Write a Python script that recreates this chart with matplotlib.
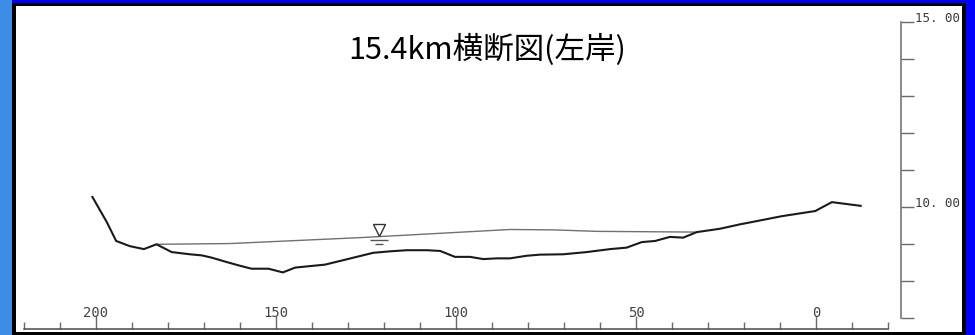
import matplotlib
matplotlib.use("Agg")
import matplotlib.pyplot as plt
from matplotlib.patches import Rectangle
from matplotlib.ticker import FixedLocator, FuncFormatter

# 15.4km cross section (left bank)
title = "15.4km横断図(左岸)"

# ground profile: distance [m] / elevation [m]
dist = [201, 197, 194.4, 190.6, 186.7, 183.2, 179, 173.9, 170.6, 167.9,
        163.7, 160, 156.8, 152.1, 148.1, 144.7, 140.6, 136.4, 132.2, 127.6,
        123, 118.3, 113.7, 108.1, 104.4, 100.3, 96.1, 92.4, 88.7, 85,
        80.4, 76.7, 70.2, 63.7, 57.2, 52.6, 48.4, 44.7, 40.6, 36.9,
        33.1, 26.7, 21.1, 17.9, 9.5, 0.2, -4.4, -12.4]
elev = [10.27, 9.59, 9.08, 8.94, 8.86, 8.99, 8.78, 8.72, 8.69, 8.63,
        8.51, 8.41, 8.33, 8.33, 8.23, 8.36, 8.40, 8.44, 8.54, 8.65,
        8.76, 8.80, 8.83, 8.83, 8.81, 8.65, 8.65, 8.59, 8.61, 8.61,
        8.68, 8.71, 8.72, 8.78, 8.86, 8.90, 9.05, 9.08, 9.19, 9.17,
        9.32, 9.41, 9.53, 9.59, 9.75, 9.89, 10.13, 10.03]

# water surface
wl_dist = [183.2, 162.8, 126.7, 85, 73, 61, 33.1]
wl_elev = [8.99, 9.01, 9.17, 9.39, 9.38, 9.34, 9.32]
wl_mark = 121.4

x_major = [200, 150, 100, 50, 0]
x_minor = [220, 210, 190, 180, 170, 160, 140, 130, 120, 110,
           90, 80, 70, 60, 40, 30, 20, 10, -10, -20]
y_ticks = [7, 8, 9, 10, 11, 12, 13, 14, 15]
y_labels = {15: "15. 00", 10: "10. 00"}

W, H = 975, 335
fig = plt.figure(figsize=(W / 100, H / 100), dpi=100, facecolor="#0000ff")
# frame (behind the axes)
fig.add_artist(Rectangle((0, 0), 12 / W, 1, transform=fig.transFigure,
                         fc="#3d8de6", ec="none", zorder=-10))
fig.add_artist(Rectangle((12 / W, 0), 954 / W, 332 / H, transform=fig.transFigure,
                         fc="black", ec="none", zorder=-9))
fig.add_artist(Rectangle((16 / W, 3 / H), 946 / W, 326 / H, transform=fig.transFigure,
                         fc="white", ec="none", zorder=-8))

ax = fig.add_axes([24 / W, 6 / H, 877 / W, 307 / H])
ax.set_facecolor("none")
ax.set_xlim(220, -23.6)
ax.set_ylim(6.7, 15)

ax.plot(wl_dist, wl_elev, color="#707070", lw=1.0, clip_on=False)
ax.plot(dist, elev, color="#1a1a1a", lw=1.5, clip_on=False)

# water level symbol
ax.plot([wl_mark], [9.38], marker="v", ms=8, mfc="white", mec="#333333", mew=1)
ax.plot([wl_mark], [9.10], marker="_", ms=13, mew=1, color="#555555")
ax.plot([wl_mark], [9.01], marker="_", ms=6, mew=1, color="#555555")

axc = "#6a6a6a"
for s in ("left", "top"):
    ax.spines[s].set_visible(False)
ax.spines["bottom"].set_bounds(-20, 220)
ax.spines["right"].set_bounds(7, 15)
ax.spines["bottom"].set_color("#4a4a4a")
ax.spines["right"].set_color(axc)
for s in ("bottom", "right"):
    ax.spines[s].set_linewidth(1.1)

ax.xaxis.set_major_locator(FixedLocator(x_major))
ax.xaxis.set_minor_locator(FixedLocator(x_minor))
ax.tick_params(axis="x", which="major", direction="in", length=9.5, width=1,
               color=axc, labelsize=10, labelcolor="#444444", pad=-16.5)
ax.tick_params(axis="x", which="minor", direction="in", length=5, width=1, color=axc)
for lab in ax.get_xticklabels():
    lab.set_family("DejaVu Sans Mono")

ax.yaxis.tick_right()
ax.yaxis.set_major_locator(FixedLocator(y_ticks))
ax.yaxis.set_major_formatter(FuncFormatter(lambda v, p: y_labels.get(int(round(v)), "")))
ax.tick_params(axis="y", which="major", direction="out", length=9.5, width=1,
               color=axc, labelsize=9, labelcolor="#3a3a3a", pad=0.5)
for t in ax.yaxis.get_major_ticks():
    t.label2.set_va("baseline")
    t.label2.set_family("DejaVu Sans Mono")

fig.text(0.5, 0.852, title, ha="center", va="center", fontsize=22,
         family=["Noto Sans CJK JP", "DejaVu Sans"], color="black")

fig.savefig("out.png", dpi=100, facecolor=fig.get_facecolor())
